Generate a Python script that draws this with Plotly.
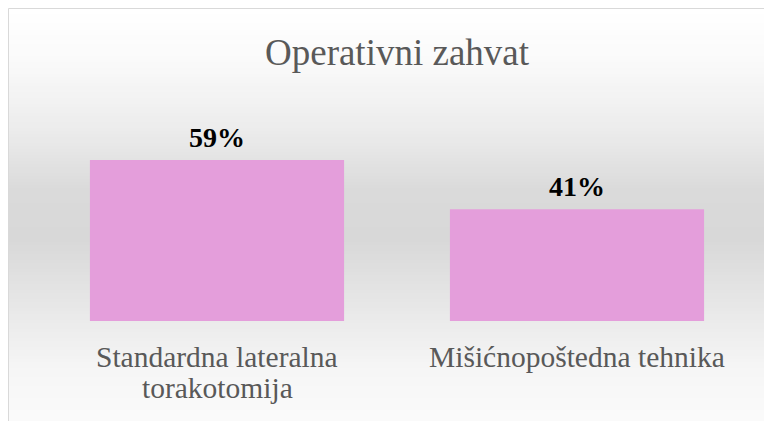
import plotly.graph_objects as go

# ---- data ----
categories = ["Standardna lateralna torakotomija", "Mišićnopoštedna tehnika"]
category_lines = [["Standardna lateralna", "torakotomija"], ["Mišićnopoštedna tehnika"]]
values = [0.59, 0.41]
title_text = "Operativni zahvat"

# ---- geometry (page has an 8px body margin, so targets are shifted by -8) ----
OFF = 8
W, H = 772, 421
PLOT_L, PLOT_R, PLOT_T, PLOT_B = 37 - OFF, 757 - OFF, 130 - OFF, 321 - OFF
ML, MR, MT, MB = PLOT_L, W - PLOT_R, PLOT_T, H - PLOT_B
PW, PH = PLOT_R - PLOT_L, PLOT_B - PLOT_T


def px(x):
    return (x - OFF - ML) / PW


def py(y):
    return (PLOT_B - (y - OFF)) / PH


# background gradient (vertical), stops: (pixel y in screen, gray level)
stops = [(8, 255), (60, 250), (130, 236), (190, 218), (240, 216), (300, 230), (370, 246), (440, 252)]


def gray_at(y):
    for (y0, g0), (y1, g1) in zip(stops[:-1], stops[1:]):
        if y0 <= y <= y1:
            t = (y - y0) / (y1 - y0)
            return g0 + (g1 - g0) * t
    return stops[-1][1]


shapes = []
step = 3
y = 8
while y < 440:
    g = int(round(gray_at(y + step / 2)))
    shapes.append(dict(type="rect", xref="paper", yref="paper",
                       x0=px(8), x1=px(771), y0=py(y), y1=py(min(y + step, 440)),
                       fillcolor=f"rgb({g},{g},{g})", line=dict(width=0), layer="below"))
    y += step
# frame
shapes.append(dict(type="rect", xref="paper", yref="paper",
                   x0=px(8.5), x1=px(771.5), y0=py(8.5), y1=py(450),
                   fillcolor="rgba(0,0,0,0)", line=dict(color="#d9d9d9", width=1), layer="above"))

fig = go.Figure()
fig.add_trace(go.Bar(
    x=categories, y=values,
    marker=dict(color="#e49edb", line=dict(width=0)),
    cliponaxis=False,
    hoverinfo="x+y",
))

annotations = []
# data labels
for cat, v in zip(categories, values):
    annotations.append(dict(
        x=cat, xref="x", y=v, yref="y", yanchor="bottom", yshift=5,
        text=f"{round(v * 100):.0f}%", showarrow=False, xanchor="center",
        font=dict(family="Liberation Serif", size=28, color="#000000", weight="bold"),
    ))

# category labels (one annotation per line)
line_gap = 31
first_center = 357
for cat, lines in zip(categories, category_lines):
    for i, ln in enumerate(lines):
        annotations.append(dict(
            x=cat, xref="x", y=py(first_center + i * line_gap), yref="paper",
            text=ln, showarrow=False, xanchor="center", yanchor="middle",
            font=dict(family="Liberation Serif", size=29.5, color="#595959"),
        ))

fig.update_layout(
    width=W, height=H,
    margin=dict(l=ML, r=MR, t=MT, b=MB, pad=0),
    paper_bgcolor="white", plot_bgcolor="rgba(0,0,0,0)",
    showlegend=False,
    bargap=0.294,
    title=dict(text=title_text, x=(397 - OFF) / W, xanchor="center",
               y=1 - (52 - OFF) / H, yanchor="middle", yref="container",
               font=dict(family="Liberation Serif", size=37, color="#595959")),
    xaxis=dict(showticklabels=False, showgrid=False, zeroline=False, showline=False,
               range=[-0.5, 1.5]),
    yaxis=dict(visible=False, range=[0, 0.7], showgrid=False, zeroline=False),
    shapes=shapes,
    annotations=annotations,
)

fig.write_html("out.html")
